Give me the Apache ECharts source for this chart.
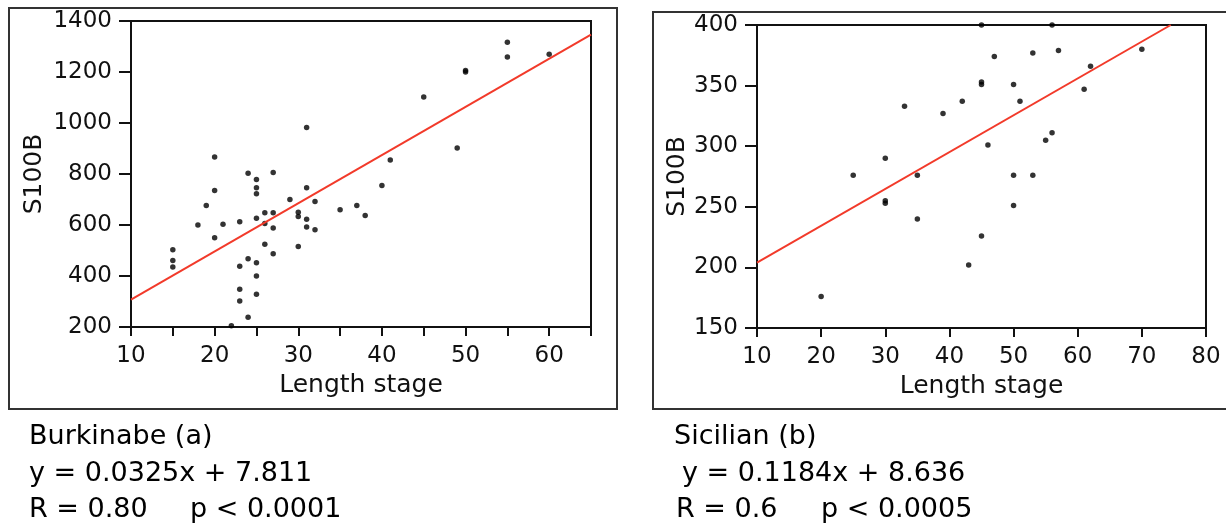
<!DOCTYPE html>
<html>
<head>
<meta charset="utf-8">
<script src="https://cdn.jsdelivr.net/npm/echarts@6/dist/echarts.min.js"></script>
<style>
  html, body { margin: 0; padding: 0; background: #fff; }
  #chart { width: 1226px; height: 527px; }
</style>
</head>
<body>
<div id="chart"></div>
<script>
// Burkinabe (a)
var burkStage = [55, 55, 60, 50, 50, 45, 49, 41, 40, 31, 31, 29, 32, 35, 37, 38, 30, 30, 31, 31, 32, 30,
                 20, 20, 19, 18, 21, 20, 15, 15, 15, 24, 25, 25, 25, 27, 23, 25, 26, 27, 26, 27, 26, 27,
                 24, 23, 25, 25, 23, 23, 25, 24, 22];
var burkS100B = [1317, 1259, 1270, 1206, 1200, 1102, 902, 855, 755, 982, 746, 700, 692, 660, 676, 637, 650, 633, 623, 592, 581, 516,
                 867, 735, 676, 600, 603, 550, 503, 461, 435, 803, 778, 746, 723, 806, 613, 626, 648, 648, 606, 588, 525, 487,
                 468, 438, 452, 400, 348, 302, 328, 238, 205];
var burkFit = [[10, 307], [65, 1347]];

// Sicilian (b)
var sicStage = [45, 56, 47, 53, 57, 70, 62, 45, 45, 50, 61, 33, 42, 51, 39, 56, 55, 46, 30, 25, 35, 50, 53, 30, 30, 50, 35, 45, 43, 20];
var sicS100B = [400, 400, 374, 377, 379, 380, 366, 353, 351, 351, 347, 333, 337, 337, 327, 311, 305, 301, 290, 276, 276, 276, 276, 255, 253, 251, 240, 226, 202, 176];
var sicFit = [[10, 204], [74.5, 400]];

var captionsA = ['Burkinabe (a)', 'y = 0.0325x + 7.811', 'R = 0.80', 'p < 0.0001'];
var captionsB = ['Sicilian (b)', 'y = 0.1184x + 8.636', 'R = 0.6', 'p < 0.0005'];

function pairs(xs, ys) {
  return xs.map(function (x, i) { return [x, ys[i]]; });
}

var font = 'DejaVu Sans';
var ink = '#111';

function xAxis(idx, min, max, step, labelStep) {
  return {
    type: 'value', gridIndex: idx, min: min, max: max, interval: step,
    name: 'Length stage', nameLocation: 'middle', nameGap: 45,
    nameTextStyle: { fontFamily: font, fontSize: 25, color: ink },
    axisLine: { onZero: false, lineStyle: { color: ink, width: 2 } },
    axisTick: { length: 9, lineStyle: { color: ink, width: 2 } },
    axisLabel: {
      margin: 18, fontFamily: font, fontSize: 23, color: ink,
      showMaxLabel: true,
      formatter: function (v) { return v % labelStep === 0 ? String(v) : ''; }
    },
    splitLine: { show: false }
  };
}

function yAxis(idx, min, max, step, gap) {
  return {
    type: 'value', gridIndex: idx, min: min, max: max, interval: step,
    name: 'S100B', nameLocation: 'middle', nameGap: gap,
    nameTextStyle: { fontFamily: font, fontSize: 25, color: ink },
    axisLine: { onZero: false, lineStyle: { color: ink, width: 2 } },
    axisTick: { length: 12, lineStyle: { color: ink, width: 2 } },
    axisLabel: {
      margin: 19, fontFamily: font, fontSize: 23, color: ink,
      formatter: function (v) { return String(v); }
    },
    splitLine: { show: false }
  };
}

function caption(x, y, t) {
  return { type: 'text', x: x, y: y, style: { text: t, font: '27px "DejaVu Sans"', fill: '#000', verticalAlign: 'middle' } };
}

var myChart = echarts.init(document.getElementById('chart'));
option = {
  backgroundColor: '#fff',
  animation: false,
  grid: [
    { left: 131, top: 21, width: 460, height: 306, show: true, borderColor: ink, borderWidth: 2 },
    { left: 757, top: 25, width: 449, height: 303, show: true, borderColor: ink, borderWidth: 2 }
  ],
  xAxis: [xAxis(0, 10, 65, 5, 10), xAxis(1, 10, 80, 10, 10)],
  yAxis: [yAxis(0, 200, 1400, 200, 84), yAxis(1, 150, 400, 50, 64)],
  graphic: [
    { type: 'rect', shape: { x: 9, y: 8, width: 608, height: 401 }, style: { fill: null, stroke: '#333', lineWidth: 2 } },
    { type: 'rect', shape: { x: 653, y: 12, width: 600, height: 397 }, style: { fill: null, stroke: '#333', lineWidth: 2 } },
    caption(29, 437, captionsA[0]),
    caption(29, 474, captionsA[1]),
    caption(29, 510, captionsA[2]),
    caption(190, 510, captionsA[3]),
    caption(674, 437, captionsB[0]),
    caption(682, 474, captionsB[1]),
    caption(676, 510, captionsB[2]),
    caption(821, 510, captionsB[3])
  ],
  series: [
    {
      type: 'scatter', xAxisIndex: 0, yAxisIndex: 0, symbolSize: 5.5,
      itemStyle: { color: '#000' }, data: pairs(burkStage, burkS100B)
    },
    {
      type: 'line', xAxisIndex: 0, yAxisIndex: 0, symbol: 'none',
      lineStyle: { color: '#f23a2a', width: 2 }, data: burkFit
    },
    {
      type: 'scatter', xAxisIndex: 1, yAxisIndex: 1, symbolSize: 5.5,
      itemStyle: { color: '#000' }, data: pairs(sicStage, sicS100B)
    },
    {
      type: 'line', xAxisIndex: 1, yAxisIndex: 1, symbol: 'none',
      lineStyle: { color: '#f23a2a', width: 2 }, data: sicFit
    }
  ]
};
myChart.setOption(option);
</script>
</body>
</html>
